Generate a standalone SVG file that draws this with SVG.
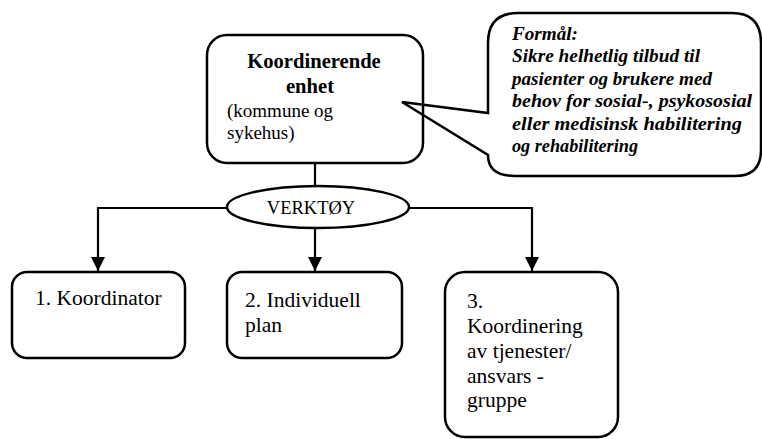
<svg xmlns="http://www.w3.org/2000/svg" width="762" height="439" viewBox="0 0 762 439">
<defs>
<style>
.box{fill:none;stroke:#000;stroke-width:2.5}
.ln{fill:none;stroke:#000;stroke-width:2.2}
text{font-family:'Times New Roman','Liberation Serif','DejaVu Serif',serif;fill:#000}
.t{font-size:19px}
.tn{font-size:21.5px}
.tb{font-size:20.6px;font-weight:bold}
.ti{font-size:18.5px;font-weight:bold;font-style:italic}
</style>
<marker id="arr" viewBox="0 0 14 14" refX="14" refY="7" markerWidth="14" markerHeight="14" markerUnits="userSpaceOnUse" orient="auto">
<path d="M0,0 L14,7 L0,14 Z" fill="#000"/>
</marker>
</defs>
<rect width="762" height="439" fill="#fff"/>
<g id="callout">
<path class="box" d="M488,113 L488,43 Q488,13 518,13 L732,13 Q761,13 761,43 L761,150 Q761,176 735,176 L515,176 Q488,176 488,155 L402,102 Z"/>
<text class="ti" x="512" y="40" textLength="66" lengthAdjust="spacingAndGlyphs">Formål:</text>
<text class="ti" x="512" y="62" textLength="188" lengthAdjust="spacingAndGlyphs">Sikre helhetlig tilbud til</text>
<text class="ti" x="512" y="85" textLength="200" lengthAdjust="spacingAndGlyphs">pasienter og brukere med</text>
<text class="ti" x="512" y="107" textLength="240" lengthAdjust="spacingAndGlyphs">behov for sosial-, psykososial</text>
<text class="ti" x="512" y="130" textLength="230" lengthAdjust="spacingAndGlyphs">eller medisinsk habilitering</text>
<text class="ti" x="512" y="152" textLength="126" lengthAdjust="spacingAndGlyphs">og rehabilitering</text>
</g>
<g id="enhet">
<rect class="box" x="207" y="35" width="216" height="128" rx="20"/>
<text class="tb" x="314" y="68" text-anchor="middle">Koordinerende</text>
<text class="tb" x="310" y="93" text-anchor="middle">enhet</text>
<text class="t" x="227" y="117">(kommune og</text>
<text class="t" x="227" y="139">sykehus)</text>
</g>
<g id="verktoy">
<ellipse class="box" cx="318" cy="207" rx="91" ry="21"/>
<text class="t" x="311" y="214" text-anchor="middle" style="font-size:18.5px">VERKTØY</text>
</g>
<g id="koordinator">
<rect class="box" x="12" y="272" width="173" height="86" rx="15"/>
<text class="tn" x="35" y="305">1. Koordinator</text>
</g>
<g id="plan">
<rect class="box" x="227" y="272" width="175" height="86" rx="15"/>
<text class="tn" x="245" y="307">2. Individuell</text>
<text class="tn" x="245" y="332">plan</text>
</g>
<g id="koordinering">
<rect class="box" x="445" y="272" width="173" height="165" rx="20"/>
<text class="tn" x="467" y="308">3.</text>
<text class="tn" x="467" y="333">Koordinering</text>
<text class="tn" x="467" y="358">av tjenester/</text>
<text class="tn" x="467" y="383">ansvars -</text>
<text class="tn" x="467" y="407">gruppe</text>
</g>
<g id="connectors">
<line class="ln" x1="315" y1="163" x2="315" y2="186"/>
<polyline class="ln" points="227,208 98,208 98,271" marker-end="url(#arr)"/>
<polyline class="ln" points="409,208 532,208 532,271" marker-end="url(#arr)"/>
<line class="ln" x1="315" y1="228" x2="315" y2="271" marker-end="url(#arr)"/>
</g>
</svg>
